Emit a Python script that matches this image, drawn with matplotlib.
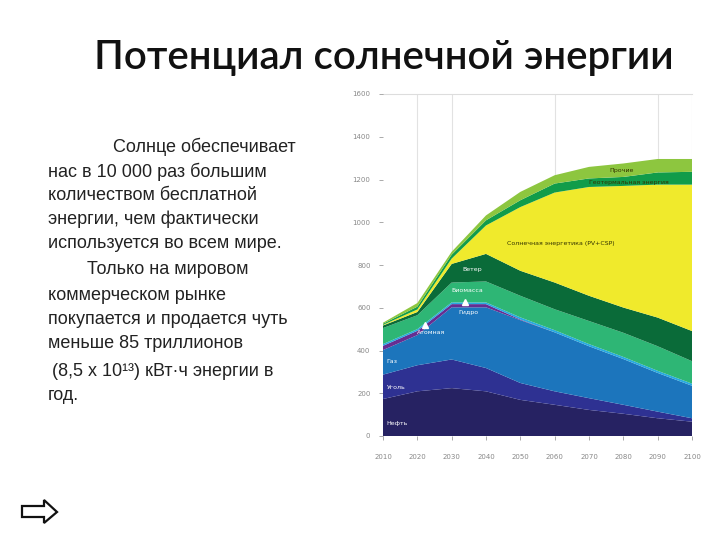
import matplotlib.pyplot as plt
from matplotlib.patches import Polygon
import numpy as np

years = [2010, 2020, 2030, 2040, 2050, 2060, 2070, 2080, 2090, 2100]

# values (same units as the y axis)
oil = [173, 209, 224, 209, 169, 146, 122, 104, 83, 67]
coal = [114, 122, 134, 109, 79, 63, 55, 42, 31, 16]
gas = [115, 141, 244, 284, 294, 276, 243, 214, 181, 152]
nuclear = [20, 20, 15, 15, 3, 0, 0, 0, 0, 0]
hydro = [8, 8, 8, 8, 10, 10, 10, 10, 10, 10]
biomass = [75, 65, 93, 98, 101, 98, 108, 113, 115, 105]
wind = [12, 15, 87, 129, 117, 125, 118, 118, 134, 141]
solar = [3, 12, 25, 133, 298, 421, 509, 569, 622, 685]
geo = [5, 13, 18, 24, 32, 42, 40, 42, 57, 60]
other = [5, 17, 14, 23, 39, 39, 54, 63, 63, 60]

colors = ['#262262', '#2e3192', '#1c75bc', '#662d91', '#27aae1',
          '#2eb675', '#0a6b39', '#f0ea2c', '#119c4a', '#8dc63f']

title = 'Потенциал солнечной энергии'
body = [
    ('Солнце обеспечивает', 113),
    ('нас в 10 000 раз большим', 48),
    ('количеством бесплатной', 48),
    ('энергии, чем фактически', 48),
    ('используется во всем мире.', 48),
    ('Только на мировом', 87),
    ('коммерческом рынке', 48),
    ('покупается и продается чуть', 48),
    ('меньше 85 триллионов', 48),
    ('(8,5 х 10¹³) кВт·ч энергии в', 52),
    ('год.', 48),
]
body_y = [147, 172, 196, 219, 243, 270, 296, 320, 344, 372, 396]

W, H = 720, 540
fig = plt.figure(figsize=(7.2, 5.4), dpi=100)

fig.text(384 / W, 1 - 58 / H, title, ha='center', va='center',
         fontsize=29, family='Lato', fontweight='semibold', color='#111111')

for (line, x), y in zip(body, body_y):
    fig.text(x / W, 1 - y / H, line, ha='left', va='center',
             fontsize=13, family='Liberation Sans', color='#222222')

# outline arrow bottom-left
pts = [(22, 506), (44, 506), (44, 500), (57, 512), (44, 523), (44, 517), (22, 517)]
arrow = Polygon([(x / W, 1 - y / H) for x, y in pts], closed=True,
                fill=False, edgecolor='#111111', linewidth=1.6,
                transform=fig.transFigure)
fig.patches.append(arrow)

ax = fig.add_axes([383 / W, 1 - 436 / H, (692 - 383) / W, (436 - 94) / H])
ax.stackplot(years, oil, coal, gas, nuclear, hydro, biomass, wind, solar, geo, other,
             colors=colors, linewidth=0, zorder=2)
ax.set_xlim(2010, 2100)
ax.set_ylim(0, 1600)
for s in ax.spines.values():
    s.set_visible(False)
for gx in [2020, 2030, 2060, 2090, 2100]:
    ax.axvline(gx, color='#e2e2e2', linewidth=0.8, zorder=1)
ax.axhline(1600, color='#dddddd', linewidth=0.8, zorder=1, clip_on=False)
ax.set_xticks(years)
ax.set_yticks(range(0, 1601, 200))
ax.tick_params(labelsize=5, colors='#888888', length=3, width=0.5)
ax.tick_params(axis='x', pad=10)
ax.tick_params(axis='y', pad=6)

lab = dict(fontsize=4.5, color='white', va='center', zorder=5)
ax.text(2011, 60, 'Нефть', **lab)
ax.text(2011, 225, 'Уголь', **lab)
ax.text(2011, 350, 'Газ', **lab)
ax.text(2020, 484, 'Атомная', **lab)
ax.text(2032, 576, 'Гидро', **lab)
ax.text(2030, 682, 'Биомасса', **lab)
ax.text(2033, 780, 'Ветер', **lab)
ax.plot([2022.3], [520], marker='^', color='white', markersize=4, zorder=5)
ax.plot([2033.8], [628], marker='^', color='white', markersize=4, zorder=5)
dark = dict(fontsize=4.5, color='#333300', va='center', zorder=5)
ax.text(2046, 902, 'Солнечная энергетика (PV+CSP)', **dark)
ax.text(2070, 1188, 'Геотермальная энергия', **dark)
ax.text(2076, 1243, 'Прочие', **dark)

plt.savefig('out.png', dpi=100)
